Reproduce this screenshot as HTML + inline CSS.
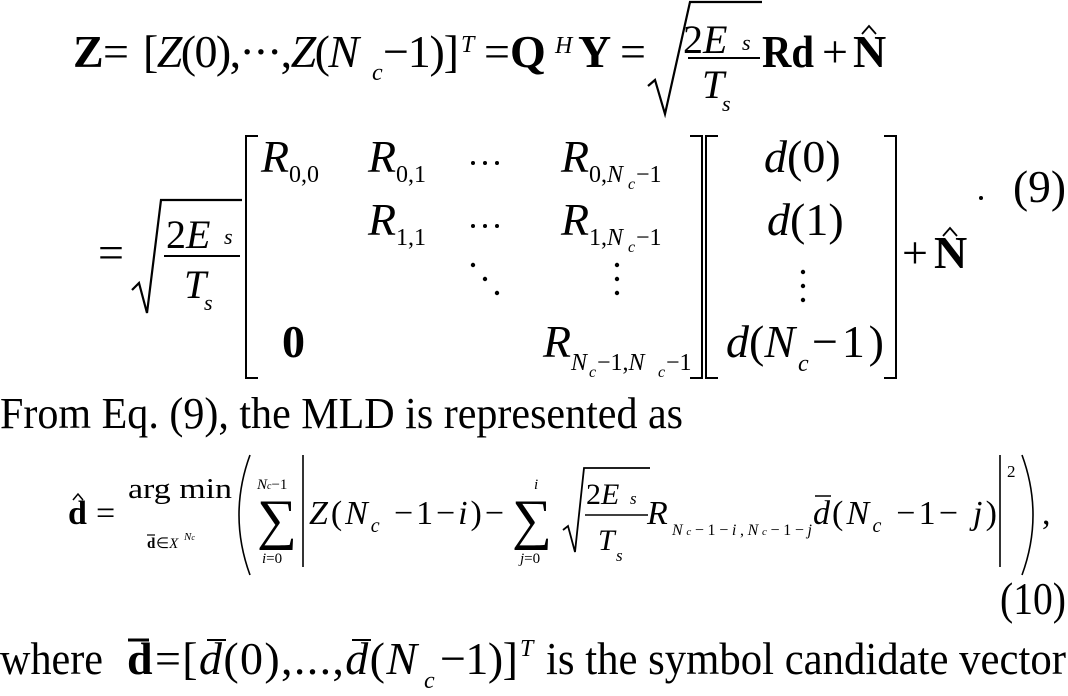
<!DOCTYPE html>
<html><head><meta charset="utf-8"><style>
html,body{margin:0;padding:0;background:#fff;}
svg{display:block;}
text{font-family:"Liberation Serif",serif;fill:#000;}
.b{font-weight:bold;}
.i{font-style:italic;}
</style></head><body>
<svg width="1068" height="696" viewBox="0 0 1068 696" xmlns="http://www.w3.org/2000/svg">
<g font-size="46">
<!-- Line 1 -->
<text x="73" y="67" class="b">Z</text>
<text x="103" y="67">=</text>
<text x="143" y="67" textLength="216" lengthAdjust="spacing">[<tspan class="i">Z</tspan>(0),···,<tspan class="i">Z</tspan>(<tspan class="i">N</tspan></text>
<text x="372" y="80" font-size="24" class="i">c</text>
<text x="383" y="67" textLength="76" lengthAdjust="spacing">−1)]</text>
<text x="461" y="52" font-size="24" class="i">T</text>
<text x="484" y="67">=<tspan class="b">Q</tspan></text>
<text x="555" y="53" font-size="24" class="i">H</text>
<text x="578" y="67" class="b">Y</text>
<text x="620" y="67">=</text>
<path d="M648 86 L655 80 L665 114 L690 2 L762 2" fill="none" stroke="#000" stroke-width="2.2"/>
<text x="683" y="53" font-size="40">2<tspan class="i">E</tspan></text>
<text x="742" y="50" font-size="22" class="i">s</text>
<line x1="688" y1="58" x2="760" y2="58" stroke="#000" stroke-width="2"/>
<text x="702" y="98" font-size="40" class="i">T</text>
<text x="722" y="111" font-size="22" class="i">s</text>
<text x="762" y="67" class="b" textLength="52" lengthAdjust="spacingAndGlyphs">Rd</text>
<text x="822" y="67">+</text>
<text x="853" y="67" class="b">N</text>
<path d="M862 34 L869 26 L876 34" fill="none" stroke="#000" stroke-width="1.8"/>

<!-- Line 2 matrix -->
<text x="98" y="268">=</text>
<path d="M132 290 L139 283 L147 313 L161 200 L242 200" fill="none" stroke="#000" stroke-width="2.2"/>
<text x="166" y="248" font-size="40">2<tspan class="i">E</tspan></text>
<text x="224" y="244" font-size="22" class="i">s</text>
<line x1="164" y1="256" x2="240" y2="256" stroke="#000" stroke-width="2"/>
<text x="184" y="298" font-size="40" class="i">T</text>
<text x="204" y="310" font-size="22" class="i">s</text>
<path d="M258 136 L246 136 L246 378 L258 378" fill="none" stroke="#000" stroke-width="2"/>
<path d="M690 136 L702 136 L702 378 L690 378" fill="none" stroke="#000" stroke-width="2"/>
<path d="M718 136 L706 136 L706 378 L718 378" fill="none" stroke="#000" stroke-width="2"/>
<path d="M884 136 L896 136 L896 378 L884 378" fill="none" stroke="#000" stroke-width="2"/>
<text x="261" y="172" class="i">R</text><text x="289" y="182" font-size="24">0,0</text>
<text x="368" y="172" class="i">R</text><text x="396" y="182" font-size="24">0,1</text>
<circle cx="473" cy="163" r="2"/><circle cx="485" cy="163" r="2"/><circle cx="497" cy="163" r="2"/>
<text x="561" y="172" class="i">R</text><text x="589" y="182" font-size="24">0,<tspan class="i">N</tspan></text><text x="628" y="189" font-size="16" class="i">c</text><text x="636" y="182" font-size="24">−1</text>
<text x="368" y="235" class="i">R</text><text x="396" y="245" font-size="24">1,1</text>
<circle cx="473" cy="226" r="2"/><circle cx="485" cy="226" r="2"/><circle cx="497" cy="226" r="2"/>
<text x="561" y="235" class="i">R</text><text x="589" y="245" font-size="24">1,<tspan class="i">N</tspan></text><text x="628" y="252" font-size="16" class="i">c</text><text x="636" y="245" font-size="24">−1</text>
<circle cx="473" cy="265" r="2.2"/><circle cx="485" cy="279" r="2.2"/><circle cx="497" cy="293" r="2.2"/>
<circle cx="617" cy="265" r="2.2"/><circle cx="617" cy="279" r="2.2"/><circle cx="617" cy="293" r="2.2"/>
<text x="282" y="357" class="b">0</text>
<text x="543" y="357" class="i">R</text><text x="571" y="370" font-size="24" class="i">N</text><text x="589" y="377" font-size="16" class="i">c</text><text x="597" y="370" font-size="24">−1,<tspan class="i">N</tspan></text><text x="658" y="377" font-size="16" class="i">c</text><text x="666" y="370" font-size="24">−1</text>
<text x="764" y="172"><tspan class="i">d</tspan>(0)</text>
<text x="767" y="235"><tspan class="i">d</tspan>(1)</text>
<circle cx="803" cy="272" r="2.2"/><circle cx="803" cy="286" r="2.2"/><circle cx="803" cy="300" r="2.2"/>
<text x="726" y="357"><tspan class="i">d</tspan>(<tspan class="i">N</tspan></text>
<text x="798" y="371" font-size="24" class="i">c</text>
<text x="812" y="357" textLength="72" lengthAdjust="spacing">−1)</text>
<text x="902" y="268">+</text>
<text x="934" y="268" class="b">N</text>
<path d="M943 236 L950 228 L957 236" fill="none" stroke="#000" stroke-width="1.8"/>
<circle cx="981" cy="198" r="2"/>
<text x="1013" y="202" textLength="53" lengthAdjust="spacingAndGlyphs">(9)</text>

<!-- Line 3 -->
<text x="0" y="428" textLength="683" lengthAdjust="spacingAndGlyphs" font-size="44">From Eq. (9), the MLD is represented as</text>

<!-- Line 4 -->
<text x="68" y="524" font-size="34" class="b">d</text>
<path d="M73 500 L78 494 L83 500" fill="none" stroke="#000" stroke-width="1.5"/>
<text x="96" y="524" font-size="34">=</text>
<text x="128" y="498" font-size="28" textLength="104" lengthAdjust="spacingAndGlyphs">arg min</text>
<text x="147" y="548" font-size="15" class="b">d</text>
<line x1="147" y1="535" x2="155" y2="535" stroke="#000" stroke-width="1.2"/>
<text x="156" y="548" font-size="15">∈<tspan class="i">X</tspan></text>
<text x="184" y="540" font-size="11" class="i">N<tspan font-size="8">c</tspan></text>
<path d="M250 455 Q228 515 250 575" fill="none" stroke="#000" stroke-width="1.6"/>
<text x="257" y="538" font-size="56">∑</text>
<text x="257" y="489" font-size="15" class="i">N<tspan font-size="10">c</tspan><tspan font-style="normal" font-size="15">−1</tspan></text>
<text x="262" y="563" font-size="15"><tspan class="i">i</tspan>=0</text>
<line x1="303" y1="455" x2="303" y2="567" stroke="#000" stroke-width="1.6"/>
<text x="309" y="524" font-size="34" textLength="195" lengthAdjust="spacing"><tspan class="i">Z</tspan>(<tspan class="i">N</tspan><tspan font-size="20" class="i" dy="8">c</tspan><tspan dy="-8"> −1−</tspan><tspan class="i">i</tspan>)−</text>
<text x="512" y="538" font-size="56">∑</text>
<text x="534" y="489" font-size="15" class="i">i</text>
<text x="520" y="563" font-size="15"><tspan class="i">j</tspan>=0</text>
<path d="M563 530 L568 526 L575 552 L584 468 L650 468" fill="none" stroke="#000" stroke-width="1.8"/>
<text x="586" y="504" font-size="30">2<tspan class="i">E</tspan></text>
<text x="630" y="504" font-size="17" class="i">s</text>
<line x1="585" y1="515" x2="648" y2="515" stroke="#000" stroke-width="1.6"/>
<text x="598" y="550" font-size="30" class="i">T</text>
<text x="616" y="561" font-size="17" class="i">s</text>
<text x="647" y="524" font-size="34" class="i">R</text>
<text x="672" y="535" font-size="16" textLength="140" lengthAdjust="spacing"><tspan class="i">N</tspan><tspan class="i" font-size="11">c</tspan>−1−<tspan class="i">i</tspan>,<tspan class="i">N</tspan><tspan class="i" font-size="11">c</tspan>−1−<tspan class="i">j</tspan></text>
<text x="813" y="524" font-size="34" class="i">d</text>
<line x1="815" y1="496" x2="831" y2="496" stroke="#000" stroke-width="1.5"/>
<text x="832" y="524" font-size="34" textLength="165" lengthAdjust="spacing">(<tspan class="i">N</tspan><tspan font-size="20" class="i" dy="8">c</tspan><tspan dy="-8"> −1− </tspan><tspan class="i">j</tspan>)</text>
<line x1="1000" y1="455" x2="1000" y2="567" stroke="#000" stroke-width="1.6"/>
<text x="1007" y="477" font-size="17">2</text>
<path d="M1022 455 Q1044 515 1022 575" fill="none" stroke="#000" stroke-width="1.6"/>
<text x="1042" y="524" font-size="34">,</text>
<text x="1000" y="614" textLength="66" lengthAdjust="spacingAndGlyphs">(10)</text>

<!-- Line 5 -->
<text x="0" y="674" textLength="103" lengthAdjust="spacingAndGlyphs">where</text>
<text x="127" y="674" class="b">d</text>
<line x1="128" y1="640" x2="149" y2="640" stroke="#000" stroke-width="3"/>
<text x="155" y="674" textLength="262" lengthAdjust="spacing">=[<tspan class="i">d</tspan>(0),...,<tspan class="i">d</tspan>(<tspan class="i">N</tspan></text>
<line x1="207" y1="640" x2="226" y2="640" stroke="#000" stroke-width="2"/>
<line x1="352" y1="640" x2="371" y2="640" stroke="#000" stroke-width="2"/>
<text x="424" y="688" font-size="24" class="i">c</text>
<text x="440" y="674" textLength="78" lengthAdjust="spacing">−1)]</text>
<text x="520" y="656" font-size="24" class="i">T</text>
<text x="546" y="674" textLength="520" lengthAdjust="spacingAndGlyphs">is the symbol candidate vector</text>
</g>
</svg>
</body></html>
